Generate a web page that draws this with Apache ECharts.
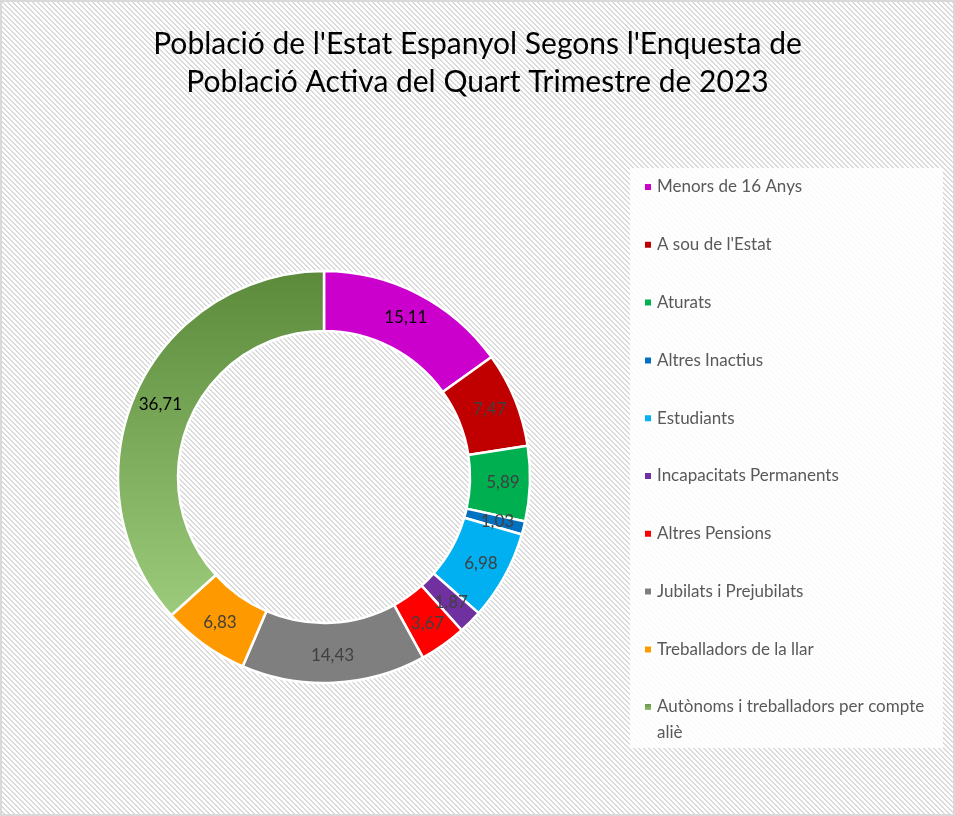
<!doctype html>
<html lang="ca">
<head>
    <meta charset="UTF-8">
    <title>Població EPA 4T 2023</title>
    <style>
        html, body { margin: 0; padding: 0; background: #fff; }
        #chart { width: 955px; height: 816px; }
    </style>
</head>
<body>
    <div id="chart"></div>

    <script src="https://cdn.jsdelivr.net/npm/echarts@6/dist/echarts.min.js"></script>
    <script>
        // dades llegides del gràfic
        var categories = [
            'Menors de 16 Anys',
            "A sou de l'Estat",
            'Aturats',
            'Altres Inactius',
            'Estudiants',
            'Incapacitats Permanents',
            'Altres Pensions',
            'Jubilats i Prejubilats',
            'Treballadors de la llar',
            'Autònoms i treballadors per compte aliè'
        ];
        var values = [15.11, 7.47, 5.89, 1.03, 6.98, 1.87, 3.67, 14.43, 6.83, 36.71];

        var colors = ['#CC00CC', '#C00000', '#00B050', '#0070C0', '#00B0F0',
                      '#7030A0', '#FF0000', '#7F7F7F', '#FF9900', null];
        var labelColors = ['#000', '#404040', '#404040', '#404040', '#404040',
                           '#404040', '#404040', '#404040', '#404040', '#000'];

        // fons ratllat
        var tile = document.createElement('canvas');
        tile.width = 5; tile.height = 5;
        var tctx = tile.getContext('2d');
        tctx.fillStyle = '#fff';
        tctx.fillRect(0, 0, 5, 5);
        tctx.fillStyle = '#dadada';
        for (var i = 0; i < 5; i++) {
            tctx.fillRect(i, i, 1, 1);
            tctx.fillRect((i + 1) % 5, i, 1, 1);
        }

        var greenGrad = new echarts.graphic.LinearGradient(0, 0, 0, 1, [
            { offset: 0, color: '#5A8A3A' },
            { offset: 1, color: '#9CCB7B' }
        ]);

        var pieData = categories.map(function (name, k) {
            return {
                name: name,
                value: values[k],
                itemStyle: { color: colors[k] || greenGrad },
                label: { color: labelColors[k] }
            };
        });

        var lastName = categories[categories.length - 1];
        var legendText = {
            fontFamily: 'Lato',
            fontSize: 17,
            color: '#595959',
            lineHeight: 20
        };

        var chart = echarts.init(document.getElementById('chart'));

        var option = {
            backgroundColor: { image: tile, repeat: 'repeat' },
            title: {
                text: "Població de l'Estat Espanyol Segons l'Enquesta de\nPoblació Activa del Quart Trimestre de 2023",
                left: 'center',
                top: 20,
                textStyle: {
                    fontFamily: 'Lato',
                    fontSize: 30,
                    fontWeight: 'normal',
                    color: '#000',
                    lineHeight: 38
                }
            },
            graphic: [
                {
                    type: 'rect',
                    shape: { x: 630, y: 168, width: 313, height: 580 },
                    style: { fill: 'rgba(255,255,255,0.85)' },
                    z: -1
                },
                {
                    type: 'rect',
                    shape: { x: 1, y: 1, width: 953, height: 814 },
                    style: { fill: 'none', stroke: '#d9d9d9', lineWidth: 2 },
                    z: 10
                }
            ],
            legend: [
                {
                    orient: 'vertical',
                    left: 638,
                    top: 172,
                    icon: 'rect',
                    itemWidth: 8,
                    itemHeight: 8,
                    itemGap: 37.8,
                    data: categories.slice(0, 9),
                    textStyle: legendText
                },
                {
                    // línia buida al davant perquè la primera línia quedi a l'altura de la icona
                    orient: 'vertical',
                    left: 638,
                    top: 663,
                    icon: 'rect',
                    itemWidth: 8,
                    itemHeight: 8,
                    data: [lastName],
                    formatter: function () {
                        return ' \nAutònoms i treballadors per compte\naliè';
                    },
                    textStyle: {
                        fontFamily: 'Lato',
                        fontSize: 17,
                        color: '#595959',
                        lineHeight: 26
                    }
                }
            ],
            series: [{
                type: 'pie',
                center: [324, 477],
                radius: [146, 206],
                startAngle: 90,
                clockwise: true,
                avoidLabelOverlap: false,
                itemStyle: { borderColor: '#fff', borderWidth: 2.5 },
                label: {
                    show: true,
                    position: 'inside',
                    fontFamily: 'Lato',
                    fontSize: 17,
                    formatter: function (p) {
                        return p.value.toFixed(2).replace('.', ',');
                    }
                },
                labelLine: { show: false },
                emphasis: { disabled: true },
                data: pieData
            }]
        };

        chart.setOption(option);
    </script>
</body>
</html>
